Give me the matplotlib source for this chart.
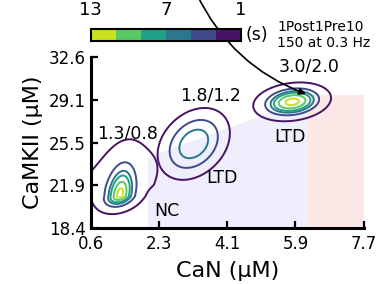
import numpy as np
import matplotlib
matplotlib.use('Agg')
import matplotlib.pyplot as plt
from matplotlib.colors import ListedColormap


# density blobs: (cx, cy, sx, sy_up, sy_down, rho, amplitude, shape power)
blob_a = [
    (1.36, 21.1, 0.24, 1.55, 0.55, 0.30, 1.00, 2.0),   # core
    (1.30, 22.0, 0.76, 2.15, 0.80, 0.45, 0.05, 2.0),   # tail
]
blob_b = [
    (3.28, 25.4, 0.55, 1.75, 1.75, 0.30, 0.52, 3.5),
]
blob_c = [
    (5.84, 28.9, 0.476, 0.76, 0.76, 0.20, 1.00, 2.73),
]
levels = [0.02, 0.236, 0.457, 0.607, 0.81, 0.97]

pair_labels = ['1.3/0.8', '1.8/1.2', '3.0/2.0']
pair_xy = [(1.57, 26.3), (3.73, 29.4), (6.28, 31.8)]
region_labels = ['NC', 'LTD', 'LTD']
region_xy = [(2.59, 19.8), (4.02, 22.6), (5.79, 26.0)]

xticks = [0.6, 2.3, 4.1, 5.9, 7.7]
yticks = [18.4, 21.9, 25.5, 29.1, 32.6]
cbar_ticks = [13, 7, 1]

# nc / ltd zones
nc_x = [2.09, 2.09, 6.22, 6.22]
nc_y = [18.4, 24.3, 29.1, 18.4]
ltd_x = [6.22, 7.7]
ltd_top = 29.5

cols = plt.cm.viridis(np.linspace(0.05, 0.92, 6))


def blob(X, Y, p):
    cx, cy, sx, sy_up, sy_dn, r, a, pw = p
    dx = (X - cx) / sx
    dy = (Y - cy) / np.where(Y > cy, sy_up, sy_dn)
    q = (dx**2 - 2*r*dx*dy + dy**2) / (1 - r**2)
    return a * np.exp(-0.5 * q**(pw / 2))


fig = plt.figure(figsize=(3.8, 2.84), dpi=100)
ax = fig.add_axes([0.2387, 0.197, 0.7183, 0.601])

ax.fill(nc_x, nc_y, color='#eeeefc', lw=0, zorder=0)
ax.fill_between(ltd_x, 18.4, ltd_top, color='#fde8e8', lw=0, zorder=0)

X, Y = np.meshgrid(np.linspace(-1, 9, 600), np.linspace(15, 36, 600))
for group in [blob_a, blob_b, blob_c]:
    Z = np.zeros_like(X)
    for p in group:
        Z += blob(X, Y, p)
    ax.contour(X, Y, Z, levels=levels, colors=cols, linewidths=1.4)

for t, (x, y) in zip(pair_labels, pair_xy):
    ax.text(x, y, t, fontsize=12.5, ha='center', va='center')
for t, (x, y) in zip(region_labels, region_xy):
    ax.text(x, y, t, fontsize=12.5, ha='center', va='center')

ax.set_xlim(0.6, 7.7)
ax.set_ylim(18.4, 32.6)
ax.set_xticks(np.linspace(0.6, 7.7, 5))
ax.set_xticklabels(xticks)
ax.set_yticks(np.linspace(18.4, 32.6, 5))
ax.set_yticklabels(yticks)
ax.tick_params(direction='in', length=5, width=1.6, labelsize=12)
ax.tick_params(axis='x', pad=5)
for s in ['top', 'right']:
    ax.spines[s].set_visible(False)
for s in ['left', 'bottom']:
    ax.spines[s].set_linewidth(2.2)
ax.set_xlabel('CaN (μM)', fontsize=16, labelpad=6)
ax.set_ylabel('CaMKII (μM)', fontsize=16, labelpad=4)

# arrow from above
ax.annotate('', xy=(6.2, 29.55), xycoords='data',
            xytext=(0.518, 1.02), textcoords='figure fraction',
            arrowprops=dict(arrowstyle='-|>', color='black', lw=1.2,
                            connectionstyle='arc3,rad=0.2',
                            shrinkA=0, shrinkB=0))

# colorbar, 13 (left) -> 1 (right)
cax = fig.add_axes([0.2387, 0.8556, 0.3955, 0.0423])
edges = np.linspace(13, 1, 7)
cax.pcolormesh(edges, [0, 1], np.arange(6)[None, :],
               cmap=ListedColormap(cols[::-1]), vmin=-0.5, vmax=5.5)
cax.set_xlim(13, 1)
cax.set_ylim(0, 1)
cax.set_yticks([])
cax.set_xticks(cbar_ticks)
cax.xaxis.set_ticks_position('top')
cax.tick_params(length=0, labelsize=13, pad=7)
for s in cax.spines.values():
    s.set_linewidth(1.5)
fig.text(0.675, 0.877, '(s)', fontsize=12.5, ha='center', va='center')
fig.text(0.73, 0.878, '1Post1Pre10\n150 at 0.3 Hz', fontsize=10,
         ha='left', va='center', linespacing=1.2)

fig.savefig('out.png', dpi=100)
